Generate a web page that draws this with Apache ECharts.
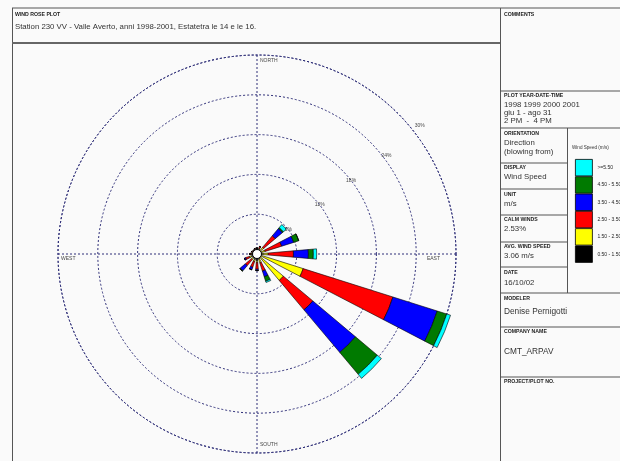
<!DOCTYPE html>
<html><head><meta charset="utf-8">
<script src="https://cdn.jsdelivr.net/npm/echarts@6/dist/echarts.min.js"></script>
<style>html,body{margin:0;padding:0;background:#fafafa}#c{width:620px;height:461px}</style>
</head><body><div id="c"></div>
<script>
// 16 directions (blowing from), clockwise from North
const directions = ['N','NNE','NE','ENE','E','ESE','SE','SSE','S','SSW','SW','WSW','W','WNW','NW','NNW'];
// frequency (%) of each wind speed class per direction
const speedClasses = ['0.50 - 1.50','1.50 - 2.50','2.50 - 3.50','3.50 - 4.50','4.50 - 5.50','>=5.50'];
const freq050_150 = [0.9,0.8,0.5,0.5,0.5,0.5,0.6,0.8,1.0,0.9,0.8,0.9,0.8,0.7,0.6,0.8];
const freq150_250 = [0,0.1,0.8,0.8,1.2,6.8,4.6,0.6,0.3,0.3,0.3,0.3,0.1,0,0.1,0];
const freq250_350 = [0,0.3,2.3,2.6,3.8,14.2,5.8,1.3,1.0,0.9,1.2,0.6,0.2,0.2,0.1,0.1];
const freq350_450 = [0,0,1.4,1.9,2.25,7.0,8.4,0.9,0.2,0.4,1.0,0.2,0,0,0,0];
const freq450_550 = [0,0,0.2,0.8,0.75,1.5,4.3,0.7,0,0,0.1,0,0,0,0,0];
const freq550_up  = [0,0,0.6,0,0.5,0.6,0.8,0.2,0,0,0,0,0,0,0,0];
const ringLabels = [6,12,18,24,30];
const cardinals = ['NORTH','EAST','SOUTH','WEST'];
const cardinalAngles = [0,90,180,270];

const classColors = ['#000000','#ffff00','#ff0000','#0000ff','#007a00','#00ffff'];
const classData = [freq050_150,freq150_250,freq250_350,freq350_450,freq450_550,freq550_up];

const CX = 257, CY = 254, R = 199;
const dash = {color:'#2e2e78', width:1, type:[2,2]};
const FONT = 'Liberation Sans, Arial, sans-serif';

const barSeries = speedClasses.map((name,i)=>({
  name, type:'bar', coordinateSystem:'polar', polarIndex:1, stack:'ws',
  barWidth:'44%', clip:false, data:classData[i],
  itemStyle:{color:classColors[i], borderColor:'#000', borderWidth:0.6},
  emphasis:{disabled:true}, z:3
}));

const cardLabelPos = {
  NORTH:{position:'right', distance:3, offset:[0,6]},
  EAST:{position:'left', distance:16, offset:[0,5]},
  SOUTH:{position:'right', distance:3, offset:[0,-8]},
  WEST:{position:'right', distance:3, offset:[0,5]}
};

const labelSeries = [
  { type:'scatter', coordinateSystem:'polar', polarIndex:0, symbolSize:0, silent:true, z:4,
    data: cardinals.map((c,i)=>({value:[30, cardinalAngles[i]], name:c,
      label:Object.assign({show:true, formatter:c, fontSize:5, color:'#111', fontFamily:FONT}, cardLabelPos[c])})) },
  { type:'scatter', coordinateSystem:'polar', polarIndex:0, symbolSize:0, silent:true, z:4,
    data: ringLabels.map(v=>({value:[v, 52], name:v+'%',
      label:{offset: v===30 ? [6,-6] : (v===24 ? [4,0] : [0,0])}})),
    label:{show:true, position:'inside', formatter:p=>p.name, fontSize:5, color:'#111', fontFamily:FONT} }
];

function txt(x,y,t,size,bold){
  return {type:'text', x, y, silent:true, style:{text:t, fontSize:size, fontWeight:bold?'bold':'normal',
    fill:bold?'#222':'#333', fontFamily:FONT, verticalAlign:'middle', align:'left'}};
}
function ln(x1,y1,x2,y2,w,c){
  return {type:'line', silent:true, shape:{x1,y1,x2,y2}, style:{stroke:c||'#555', lineWidth:w||1}};
}
const H = 5.2, V = 7.8;
const graphics = [
  ln(12,8,620,8), ln(12.5,8,12.5,461), ln(500.5,8,500.5,461), ln(12,43,500,43,2,'#666'),
  ln(500,91,620,91), ln(500,128,620,128), ln(567.5,128,567.5,293),
  ln(500,163,567,163), ln(500,189,567,189), ln(500,215,567,215), ln(500,242,567,242),
  ln(500,267,567,267), ln(500,293,620,293), ln(500,327,620,327), ln(500,377,620,377),
  txt(15,15,'WIND ROSE PLOT',H,true),
  txt(15,27,'Station 230 VV - Valle Averto, anni 1998-2001, Estatetra le 14 e le 16.',V),
  txt(504,15,'COMMENTS',H,true),
  txt(504,96,'PLOT YEAR-DATE-TIME',H,true),
  txt(504,104.5,'1998 1999 2000 2001',V),
  txt(504,113,'giu 1 - ago 31',V),
  txt(504,121,'2 PM  -  4 PM',V),
  txt(504,134,'ORIENTATION',H,true),
  txt(504,143,'Direction',V),
  txt(504,152,'(blowing from)',V),
  txt(504,168,'DISPLAY',H,true),
  txt(504,177,'Wind Speed',V),
  txt(504,195,'UNIT',H,true),
  txt(504,204,'m/s',V),
  txt(504,220,'CALM WINDS',H,true),
  txt(504,229,'2.53%',V),
  txt(504,247,'AVG. WIND SPEED',H,true),
  txt(504,256,'3.06 m/s',V),
  txt(504,273,'DATE',H,true),
  txt(504,283,'16/10/02',V),
  txt(504,299,'MODELER',H,true),
  txt(504,312,'Denise Pernigotti',8.3),
  txt(504,332,'COMPANY NAME',H,true),
  txt(504,352,'CMT_ARPAV',8.3),
  txt(504,382,'PROJECT/PLOT NO.',H,true),
  txt(572,148,'Wind Speed (m/s)',4.6),
  {type:'circle', silent:true, z:10, shape:{cx:CX, cy:CY, r:4.5}, style:{fill:'#fff', stroke:'#000', lineWidth:1}}
];

const chart = echarts.init(document.getElementById('c'), null, {renderer:'canvas'});
chart.setOption({
  backgroundColor:'#fafafa',
  animation:false,
  polar:[{center:[CX,CY], radius:R},{center:[CX,CY], radius:R}],
  angleAxis:[
    {polarIndex:0, type:'value', min:0, max:360, interval:90, startAngle:90, clockwise:true,
     axisLine:{show:true, lineStyle:dash}, axisTick:{show:false}, axisLabel:{show:false},
     splitLine:{show:true, lineStyle:dash}},
    {polarIndex:1, type:'category', data:directions, startAngle:101.25, clockwise:true,
     axisLine:{show:false}, axisTick:{show:false}, axisLabel:{show:false}, splitLine:{show:false}}
  ],
  radiusAxis:[
    {polarIndex:0, min:0, max:30, interval:6, axisLine:{show:false}, axisTick:{show:false},
     axisLabel:{show:false}, splitLine:{show:true, lineStyle:dash}},
    {polarIndex:1, min:0, max:30, axisLine:{show:false}, axisTick:{show:false},
     axisLabel:{show:false}, splitLine:{show:false}}
  ],
  legend:{orient:'vertical', left:575, top:159, itemGap:0, itemWidth:17, itemHeight:16.5,
    icon:'rect', data:speedClasses.slice().reverse(), selectedMode:false,
    itemStyle:{borderColor:'#000', borderWidth:0.8},
    textStyle:{fontSize:5, color:'#222', fontFamily:FONT}, padding:0},
  series: barSeries.concat(labelSeries),
  graphic: graphics
});
</script></body></html>
